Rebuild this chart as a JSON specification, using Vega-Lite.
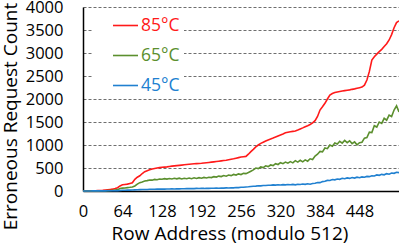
{
  "$schema": "https://vega.github.io/schema/vega-lite/v6.json",
  "width": 316,
  "height": 184,
  "autosize": {"type": "none"},
  "padding": {"left": 83, "top": 7, "right": 0, "bottom": 53},
  "config": {"view": {"stroke": null}, "font": "Open Sans"},
  "data": {"values": [
    {"x":0,"t85":0,"t65":0,"t45":0},{"x":4,"t85":1,"t65":0,"t45":0},{"x":8,"t85":2,"t65":1,"t45":1},{"x":12,"t85":4,"t65":1,"t45":1},
    {"x":16,"t85":5,"t65":2,"t45":2},{"x":20,"t85":7,"t65":3,"t45":2},{"x":24,"t85":9,"t65":3,"t45":2},{"x":28,"t85":12,"t65":4,"t45":3},
    {"x":32,"t85":15,"t65":5,"t45":3},{"x":36,"t85":20,"t65":7,"t45":3},{"x":40,"t85":26,"t65":9,"t45":4},{"x":44,"t85":33,"t65":12,"t45":4},
    {"x":48,"t85":40,"t65":15,"t45":5},{"x":52,"t85":55,"t65":22,"t45":7},{"x":56,"t85":72,"t65":30,"t45":9},{"x":60,"t85":110,"t65":55,"t45":12},
    {"x":64,"t85":135,"t65":62,"t45":15},{"x":68,"t85":142,"t65":66,"t45":17},{"x":72,"t85":150,"t65":74,"t45":19},{"x":76,"t85":165,"t65":80,"t45":20},
    {"x":80,"t85":180,"t65":88,"t45":22},{"x":84,"t85":255,"t65":110,"t45":24},{"x":88,"t85":300,"t65":148,"t45":27},{"x":92,"t85":330,"t65":182,"t45":29},
    {"x":96,"t85":380,"t65":198,"t45":31},{"x":100,"t85":420,"t65":218,"t45":32},{"x":104,"t85":442,"t65":226,"t45":34},{"x":108,"t85":460,"t65":240,"t45":37},
    {"x":112,"t85":477,"t65":236,"t45":38},{"x":116,"t85":490,"t65":252,"t45":39},{"x":120,"t85":500,"t65":246,"t45":40},{"x":124,"t85":508,"t65":262,"t45":41},
    {"x":128,"t85":515,"t65":255,"t45":42},{"x":132,"t85":520,"t65":268,"t45":41},{"x":136,"t85":525,"t65":258,"t45":44},{"x":140,"t85":533,"t65":272,"t45":43},
    {"x":144,"t85":540,"t65":262,"t45":46},{"x":148,"t85":546,"t65":276,"t45":44},{"x":152,"t85":551,"t65":264,"t45":47},{"x":156,"t85":557,"t65":280,"t45":46},
    {"x":160,"t85":563,"t65":262,"t45":49},{"x":164,"t85":570,"t65":278,"t45":48},{"x":168,"t85":577,"t65":266,"t45":52},{"x":172,"t85":582,"t65":282,"t45":51},
    {"x":176,"t85":587,"t65":268,"t45":55},{"x":180,"t85":591,"t65":286,"t45":52},{"x":184,"t85":595,"t65":272,"t45":57},{"x":188,"t85":599,"t65":290,"t45":54},
    {"x":192,"t85":602,"t65":278,"t45":58},{"x":196,"t85":610,"t65":296,"t45":56},{"x":200,"t85":615,"t65":282,"t45":60},{"x":204,"t85":621,"t65":300,"t45":57},
    {"x":208,"t85":627,"t65":292,"t45":61},{"x":212,"t85":634,"t65":312,"t45":59},{"x":216,"t85":640,"t65":302,"t45":63},{"x":220,"t85":647,"t65":324,"t45":60},
    {"x":224,"t85":655,"t65":314,"t45":66},{"x":228,"t85":662,"t65":336,"t45":63},{"x":232,"t85":670,"t65":322,"t45":68},{"x":236,"t85":680,"t65":346,"t45":65},
    {"x":240,"t85":690,"t65":334,"t45":71},{"x":244,"t85":701,"t65":360,"t45":69},{"x":248,"t85":714,"t65":346,"t45":75},{"x":252,"t85":726,"t65":372,"t45":73},
    {"x":256,"t85":738,"t65":358,"t45":80},{"x":260,"t85":745,"t65":384,"t45":82},{"x":264,"t85":752,"t65":378,"t45":88},{"x":268,"t85":800,"t65":402,"t45":92},
    {"x":272,"t85":855,"t65":430,"t45":98},{"x":276,"t85":905,"t65":458,"t45":104},{"x":280,"t85":960,"t65":498,"t45":106},{"x":284,"t85":1000,"t65":486,"t45":114},
    {"x":288,"t85":1035,"t65":522,"t45":112},{"x":292,"t85":1060,"t65":508,"t45":120},{"x":296,"t85":1085,"t65":548,"t45":118},{"x":300,"t85":1110,"t65":530,"t45":126},
    {"x":304,"t85":1130,"t65":566,"t45":124},{"x":308,"t85":1150,"t65":552,"t45":132},{"x":312,"t85":1172,"t65":594,"t45":128},{"x":316,"t85":1195,"t65":576,"t45":136},
    {"x":320,"t85":1217,"t65":616,"t45":132},{"x":324,"t85":1240,"t65":594,"t45":138},{"x":328,"t85":1265,"t65":628,"t45":134},{"x":332,"t85":1278,"t65":604,"t45":140},
    {"x":336,"t85":1288,"t65":638,"t45":136},{"x":340,"t85":1296,"t65":612,"t45":144},{"x":344,"t85":1305,"t65":660,"t45":134},{"x":348,"t85":1325,"t65":628,"t45":148},
    {"x":352,"t85":1348,"t65":668,"t45":142},{"x":356,"t85":1372,"t65":634,"t45":152},{"x":360,"t85":1398,"t65":676,"t45":144},{"x":364,"t85":1420,"t65":648,"t45":156},
    {"x":368,"t85":1445,"t65":700,"t45":148},{"x":372,"t85":1480,"t65":684,"t45":162},{"x":376,"t85":1530,"t65":760,"t45":170},{"x":380,"t85":1620,"t65":800,"t45":186},
    {"x":384,"t85":1760,"t65":860,"t45":182},{"x":388,"t85":1830,"t65":850,"t45":204},{"x":392,"t85":1906,"t65":935,"t45":210},{"x":396,"t85":2000,"t65":920,"t45":230},
    {"x":400,"t85":2087,"t65":1000,"t45":228},{"x":404,"t85":2120,"t65":975,"t45":250},{"x":408,"t85":2140,"t65":1045,"t45":242},{"x":412,"t85":2153,"t65":1020,"t45":262},
    {"x":416,"t85":2162,"t65":1080,"t45":254},{"x":420,"t85":2172,"t65":1040,"t45":276},{"x":424,"t85":2182,"t65":1098,"t45":266},{"x":428,"t85":2190,"t65":1050,"t45":284},
    {"x":432,"t85":2198,"t65":1092,"t45":274},{"x":436,"t85":2210,"t65":1030,"t45":292},{"x":440,"t85":2220,"t65":1068,"t45":280},{"x":444,"t85":2232,"t65":1005,"t45":300},
    {"x":448,"t85":2245,"t65":1050,"t45":288},{"x":452,"t85":2258,"t65":1060,"t45":306},{"x":456,"t85":2300,"t65":1150,"t45":300},{"x":460,"t85":2413,"t65":1160,"t45":318},
    {"x":464,"t85":2600,"t65":1280,"t45":312},{"x":468,"t85":2848,"t65":1270,"t45":332},{"x":472,"t85":2920,"t65":1420,"t45":326},{"x":476,"t85":2975,"t65":1390,"t45":350},
    {"x":480,"t85":3030,"t65":1500,"t45":340},{"x":484,"t85":3080,"t65":1470,"t45":362},{"x":488,"t85":3140,"t65":1580,"t45":352},{"x":492,"t85":3200,"t65":1540,"t45":378},
    {"x":496,"t85":3283,"t65":1650,"t45":366},{"x":500,"t85":3400,"t65":1620,"t45":392},{"x":504,"t85":3550,"t65":1760,"t45":384},{"x":508,"t85":3660,"t65":1850,"t45":408},
    {"x":512,"t85":3700,"t65":1720,"t45":400}
  ]},
  "transform": [{"fold": ["t85", "t65", "t45"], "as": ["series", "count"]}],
  "mark": {"type": "line", "strokeWidth": 1.6, "clip": false},
  "encoding": {
    "x": {
      "field": "x", "type": "quantitative",
      "scale": {"domain": [0, 512], "nice": false, "zero": false},
      "axis": {
        "values": [0, 64, 128, 192, 256, 320, 384, 448],
        "title": "Row Address (modulo 512)",
        "grid": false, "ticks": false,
        "domainColor": "#000000", "domainWidth": 1.5,
        "labelFont": "Open Sans", "labelFontSize": 16.5, "labelColor": "#000000",
        "labelBaseline": "alphabetic", "labelPadding": 25.5, "labelFlush": false,
        "titleFont": "Open Sans", "titleFontSize": 19, "titleFontWeight": "normal", "titleColor": "#000000",
        "titleX": 146.5, "titleY": 48, "titleBaseline": "alphabetic", "titleAlign": "center"
      }
    },
    "y": {
      "field": "count", "type": "quantitative",
      "scale": {"domain": [0, 4000], "nice": false},
      "axis": {
        "values": [0, 500, 1000, 1500, 2000, 2500, 3000, 3500, 4000],
        "format": "d",
        "title": "Erroneous Request Count",
        "grid": true, "gridDash": [3, 2], "gridColor": "#6e6e6e", "gridWidth": 1,
        "ticks": false,
        "domainColor": "#000000", "domainWidth": 1.5,
        "labelFont": "Open Sans", "labelFontSize": 16.5, "labelColor": "#000000",
        "labelPadding": 20, "labelFlush": false,
        "titleFont": "Open Sans", "titleFontSize": 19, "titleFontWeight": "normal", "titleColor": "#000000",
        "titleAngle": 270, "titleX": -67, "titleY": 109, "titleBaseline": "alphabetic", "titleAlign": "center"
      }
    },
    "color": {
      "field": "series", "type": "nominal",
      "scale": {"domain": ["t85", "t65", "t45"], "range": ["#FF1A1A", "#5B8F2E", "#2080D0"]},
      "legend": {
        "title": null,
        "orient": "none", "legendX": 9, "legendY": 1,
        "fillColor": "#ffffff", "padding": 4,
        "symbolType": "stroke", "symbolSize": 625, "symbolStrokeWidth": 1.6, "symbolOffset": 16,
        "labelFont": "Open Sans", "labelFontSize": 17.5, "labelOffset": 2,
        "rowPadding": 8,
        "labelExpr": "replace(datum.label, 't', '') + '°C'",
        "encode": {"labels": {"update": {"fill": {"scale": "color", "field": "value"}}}}
      }
    }
  }
}
